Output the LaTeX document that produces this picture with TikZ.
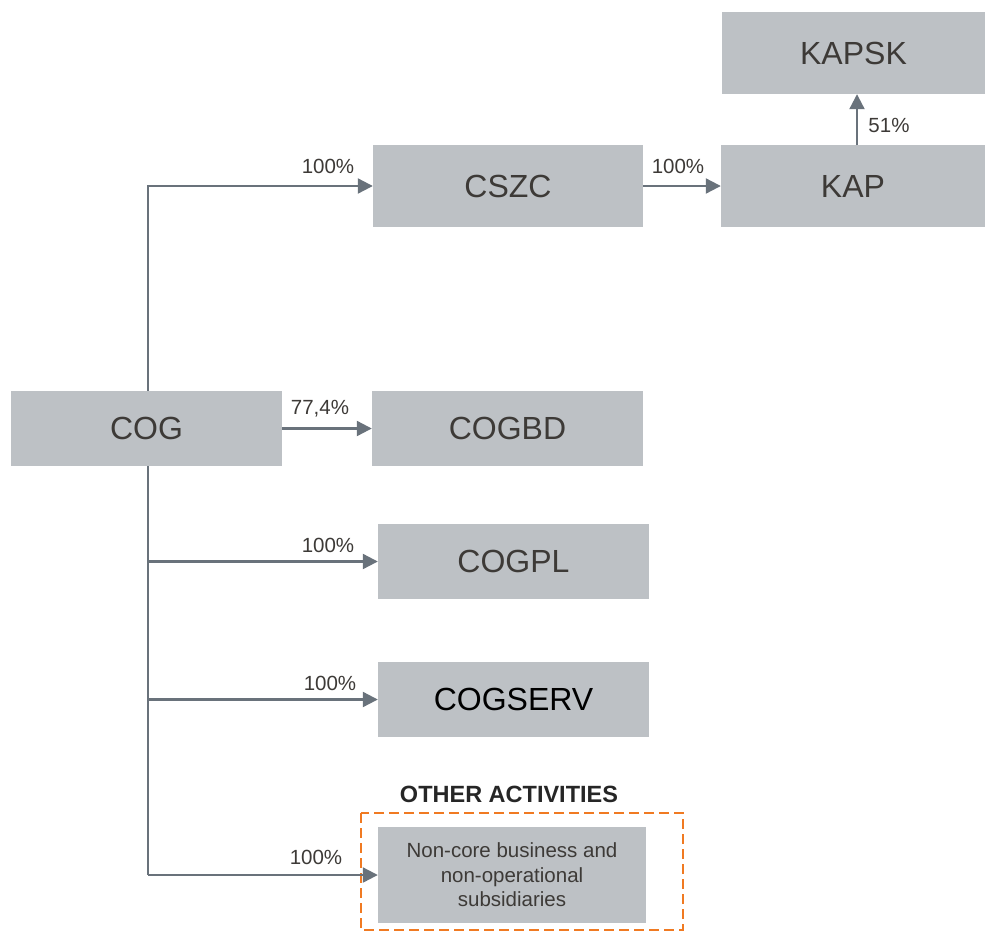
\documentclass[tikz,border=0pt]{standalone}
\usepackage{fontspec}
\setmainfont{Liberation Sans}
\usetikzlibrary{arrows.meta}
\definecolor{boxgray}{HTML}{BDC1C5}
\definecolor{linegray}{HTML}{69727B}
\definecolor{txtgray}{HTML}{3D3A37}
\definecolor{dashorange}{HTML}{F07A22}
\tikzset{
  box/.style={fill=boxgray, draw=none, inner sep=0pt, text=txtgray, font=\fontsize{32}{37}\selectfont},
  conn/.style={draw=linegray, line width=2.2pt, -{Triangle[length=15pt,width=15pt]}},
  plain/.style={draw=linegray, line width=2.2pt},
  pct/.style={text=txtgray, inner sep=0pt, font=\fontsize{20.5}{24}\selectfont},
}
\begin{document}
\begin{tikzpicture}[x=1pt,y=-1pt]
\useasboundingbox (0,0) rectangle (985,932);
% boxes
\node[box, minimum width=263, minimum height=82] (kapsk) at (853.5,53) {KAPSK};
\node[box, minimum width=264, minimum height=82] (kap) at (853,186) {KAP};
\node[box, minimum width=270, minimum height=82] (cszc) at (508,186) {CSZC};
\node[box, minimum width=271, minimum height=75] (cog) at (146.5,428.5) {COG};
\node[box, minimum width=271, minimum height=75] (cogbd) at (507.5,428.5) {COGBD};
\node[box, minimum width=271, minimum height=75] (cogpl) at (513.5,561.5) {COGPL};
\node[box, minimum width=271, minimum height=75, text=black] (cogserv) at (513.5,699.5) {COGSERV};
\node[box, minimum width=268, minimum height=96, align=center, font=\fontsize{20.5}{24.5}\selectfont] (ncb) at (512,875) {Non-core business and\\non-operational\\subsidiaries};
% dashed frame
\draw[dashorange, line width=2.5pt, dash pattern=on 10pt off 5pt] (361,813) rectangle (683,930);
\node[inner sep=0pt, text=black!85, font=\bfseries\fontsize{23.5}{28}\selectfont] (other) at (509,794) {OTHER ACTIVITIES};
% connectors
\coordinate (kapup) at (857,145);
\draw[conn] (cog.north -| 148,0) |- (cszc.west);
\draw[conn] (cszc.east) -- (kap.west);
\draw[conn] (kapup) -- (kapup |- kapsk.south);
\draw[conn] (cog.east) -- (cogbd.west);
\draw[plain] (cog.south -| 148,0) -- (148,875);
\draw[conn] (148,875) -- (ncb.west);
\draw[conn] (cogpl.west -| 148,0) -- (cogpl.west);
\draw[conn] (cogserv.west -| 148,0) -- (cogserv.west);
% labels
\node[pct] (l1) at (328,166) {100\%};
\node[pct] (l2) at (678,166) {100\%};
\node[pct] (l3) at (889,125) {51\%};
\node[pct] (l4) at (320,409) {77,4\%};
\node[pct] (l5) at (328,545) {100\%};
\node[pct] (l6) at (330,683) {100\%};
\node[pct] (l7) at (316,857) {100\%};
\end{tikzpicture}
\end{document}
